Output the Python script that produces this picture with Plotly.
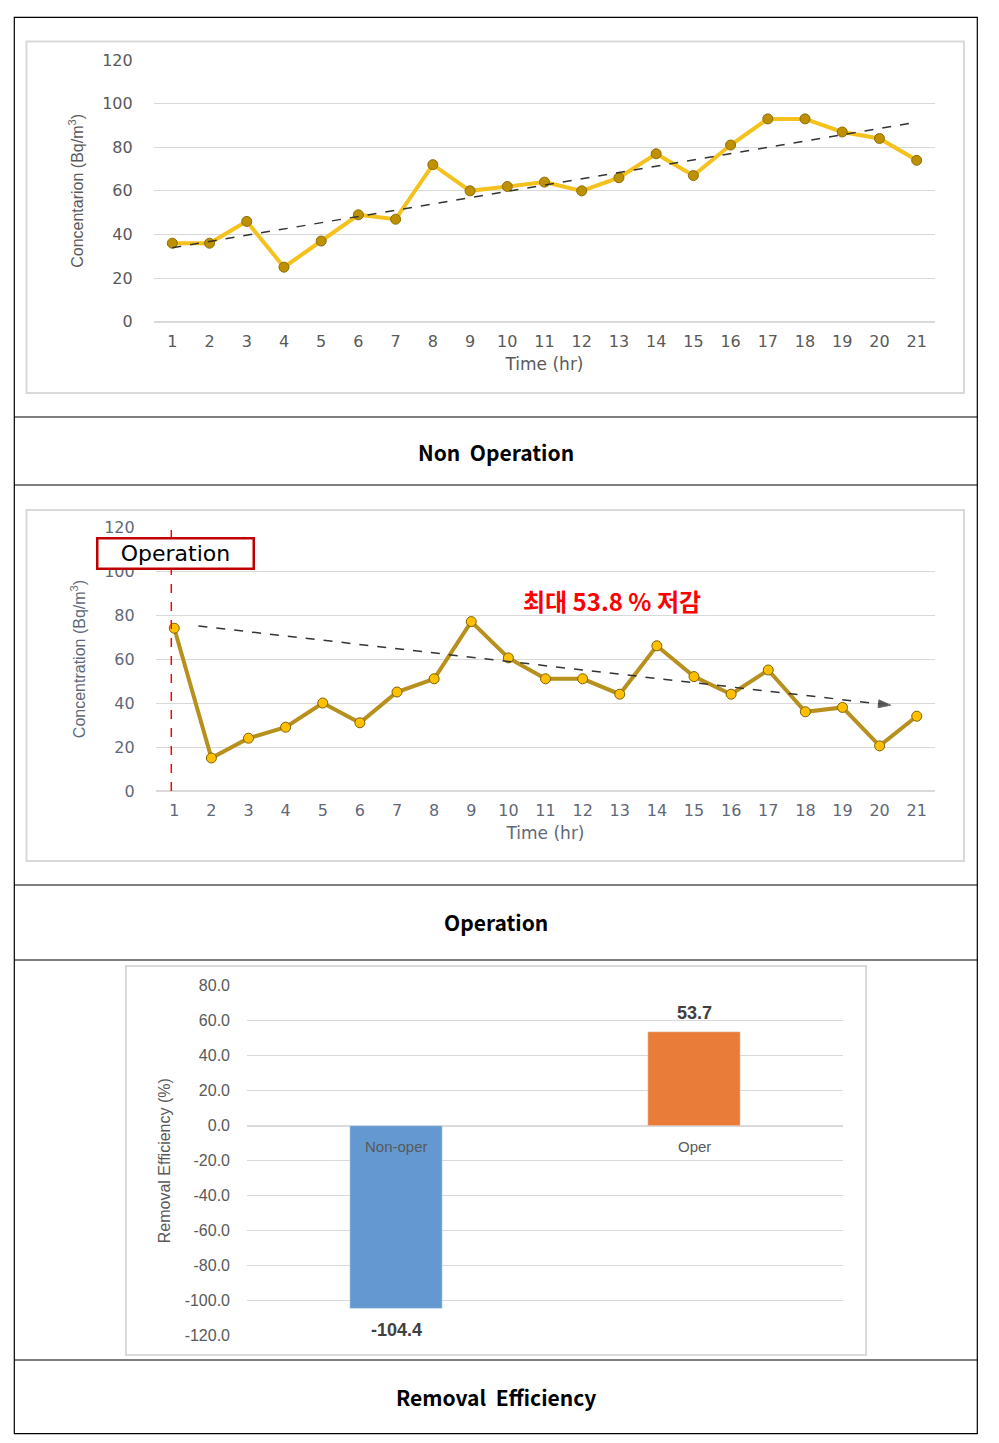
import numpy as np
import plotly.graph_objects as go

# data
hours = list(range(1, 22))
non_oper = [36, 36, 46, 25, 37, 49, 47, 72, 60, 62, 64, 60, 66, 77, 67, 81, 93, 93, 87, 84, 74]
oper = [74, 15, 24, 29, 40, 31, 45, 51, 77, 60.5, 51, 51, 44, 66, 52, 44, 55, 36, 38, 20.5, 34]
conc_ticks = [0, 20, 40, 60, 80, 100, 120]

eff_cats = ['Non-oper', 'Oper']
eff_vals = [-104.4, 53.7]
eff_ticks = [-120, -100, -80, -60, -40, -20, 0, 20, 40, 60, 80]

# hand drawn trend arrow on the operation chart (hour, value)
arrow_x = [1.65, 20.3]
arrow_y = [75, 39]
oper_start = 0.92

W, H = 999, 1443
def px(x):
    return x / W
def py(y):
    return 1 - y / H

tick_grey = '#595959'
grid = '#d9d9d9'
wide = 'DejaVu Sans'
narrow = 'Liberation Sans Narrow, Liberation Sans'

fig = go.Figure()

# non operation
fig.add_trace(go.Scatter(x=hours, y=non_oper, mode='lines+markers',
                         line=dict(color='#F5C11C', width=4),
                         marker=dict(size=10, color='#BF9000', line=dict(color='#8a6d0a', width=1)),
                         xaxis='x', yaxis='y', showlegend=False))
slope, icpt = np.polyfit(hours, non_oper, 1)
fig.add_trace(go.Scatter(x=[hours[0], hours[-1]], y=[icpt + slope * hours[0], icpt + slope * hours[-1]],
                         mode='lines', line=dict(color='#333333', width=1.5, dash='dash'),
                         xaxis='x', yaxis='y', showlegend=False))

# operation
fig.add_trace(go.Scatter(x=hours, y=oper, mode='lines+markers',
                         line=dict(color='#B8901E', width=4),
                         marker=dict(size=10, color='#FFC000', line=dict(color='#7F6000', width=1)),
                         xaxis='x2', yaxis='y2', showlegend=False))
fig.add_trace(go.Scatter(x=arrow_x, y=arrow_y, mode='lines+markers',
                         line=dict(color='#333333', width=1.5, dash='dash'),
                         marker=dict(symbol=['circle', 'arrow'], size=[0, 13], angleref='previous',
                                     color='#111111'),
                         xaxis='x2', yaxis='y2', showlegend=False))

# removal efficiency
fig.add_trace(go.Bar(x=eff_cats, y=eff_vals, marker_color=['#6398D0', '#E97C38'], width=0.31,
                     xaxis='x3', yaxis='y3', showlegend=False))

xcommon = dict(range=[0.5, 21.5], tickmode='array', tickvals=hours, showgrid=False, automargin=False,
               zeroline=False, showline=False, ticks='', ticklabelstandoff=8)
ycommon = dict(range=[0, 120], tickmode='array', tickvals=conc_ticks, gridcolor=grid, automargin=False,
               zeroline=True, zerolinecolor=grid, showline=False, ticks='', ticklabelstandoff=20)

fig.update_layout(
    width=W, height=H, margin=dict(l=0, r=0, t=0, b=0, pad=0, autoexpand=False),
    paper_bgcolor='white', plot_bgcolor='white',
    xaxis=dict(domain=[px(153.7), px(935.3)], anchor='y',
               tickfont=dict(family=wide, size=16, color=tick_grey),
               title=dict(text='Time (hr)', font=dict(family=wide, size=17, color=tick_grey), standoff=8),
               **xcommon),
    yaxis=dict(domain=[py(321.7), py(60)], anchor='x',
               tickfont=dict(family=wide, size=16, color=tick_grey),
               title=dict(text='Concentarion (Bq/m<sup>3</sup>)', font=dict(family=narrow, size=16, color=tick_grey), standoff=14),
               **ycommon),
    xaxis2=dict(domain=[px(155.7), px(935.3)], anchor='y2',
                tickfont=dict(family=wide, size=16, color='#5f6878'),
                title=dict(text='Time (hr)', font=dict(family=wide, size=17, color='#5f6878'), standoff=8),
                **xcommon),
    yaxis2=dict(domain=[py(791), py(527)], anchor='x2',
                tickfont=dict(family=wide, size=16, color='#5f6878'),
                title=dict(text='Concentration (Bq/m<sup>3</sup>)', font=dict(family=narrow, size=16, color='#5f6878'), standoff=14),
                **ycommon),
    xaxis3=dict(domain=[px(247), px(843)], anchor='y3', type='category', range=[-0.5, 1.5], automargin=False,
                showticklabels=False, showgrid=False, zeroline=False, showline=False, ticks=''),
    yaxis3=dict(domain=[py(1335.7), py(985.7)], anchor='x3', range=[-120, 80], automargin=False,
                tickmode='array', tickvals=eff_ticks, ticktext=[f'{v:.1f}' for v in eff_ticks],
                tickfont=dict(family='Liberation Sans', size=16, color=tick_grey),
                gridcolor=grid, zeroline=True, zerolinecolor=grid, showline=False, ticks='',
                ticklabelstandoff=16,
                title=dict(text='Removal Efficiency (%)', font=dict(family=narrow, size=16, color=tick_grey), standoff=10)),
)

shapes = []
# table frame
shapes.append(dict(type='rect', xref='paper', yref='paper', x0=px(14.3), x1=px(977.3), y0=py(17.3), y1=py(1433.7),
                   line=dict(color='black', width=1.2)))
for yy in [417, 485, 885, 960, 1360]:
    shapes.append(dict(type='line', xref='paper', yref='paper', x0=px(14.3), x1=px(977.3), y0=py(yy), y1=py(yy),
                       line=dict(color='black', width=1.2)))
# chart frames
for (x0, y0, x1, y1) in [(26.5, 41.5, 964, 393), (26.5, 510, 964, 861), (126, 966, 866, 1355)]:
    shapes.append(dict(type='rect', xref='paper', yref='paper', x0=px(x0), x1=px(x1), y0=py(y0), y1=py(y1),
                       line=dict(color=grid, width=2), layer='below'))
# operation start marker
shapes.append(dict(type='line', xref='x2', yref='y2', x0=oper_start, x1=oper_start, y0=0, y1=120,
                   line=dict(color='#FF0000', width=1.5, dash='dash')))
fig.update_layout(shapes=shapes)

ann = []
for txt, yy in [('Non\u00a0 Operation', 452), ('Operation', 922), ('Removal\u00a0 Efficiency', 1397)]:
    ann.append(dict(text='<b>' + txt + '</b>', xref='paper', yref='paper', x=px(496), y=py(yy),
                    showarrow=False, xanchor='center', yanchor='middle',
                    font=dict(family='Noto Sans CJK KR', size=21, color='black')))
ann.append(dict(text='Operation', xref='paper', yref='paper', x=px(175), y=py(553.5),
                showarrow=False, xanchor='center', yanchor='middle', width=152, height=26,
                bgcolor='white', bordercolor='#C00000', borderwidth=2.5, borderpad=1,
                font=dict(family=wide, size=22, color='black')))
ann.append(dict(text='<b>최대 53.8 % 저감</b>', xref='x2', yref='y2', x=12.8, y=86.8,
                showarrow=False, xanchor='center', yanchor='middle',
                font=dict(family='Noto Sans CJK KR', size=24, color='#FF0000')))
for c, v in zip(eff_cats, eff_vals):
    ann.append(dict(text=c, xref='x3', yref='y3', x=c, y=0, showarrow=False,
                    xanchor='center', yanchor='middle', yshift=-21,
                    font=dict(family='Liberation Sans', size=15, color=tick_grey)))
    ann.append(dict(text=f'<b>{v:.1f}</b>', xref='x3', yref='y3', x=c, y=v, showarrow=False,
                    xanchor='center', yanchor='middle', yshift=(19 if v > 0 else -22),
                    font=dict(family='Liberation Sans', size=18, color='#404040')))
fig.update_layout(annotations=ann)

# drop the default page margin so the figure sits at the window origin
fig.write_html('out.html', config={'displayModeBar': False},
               post_script="document.documentElement.style.margin='0';document.body.style.margin='0';"
                           "document.body.style.overflow='hidden';")
